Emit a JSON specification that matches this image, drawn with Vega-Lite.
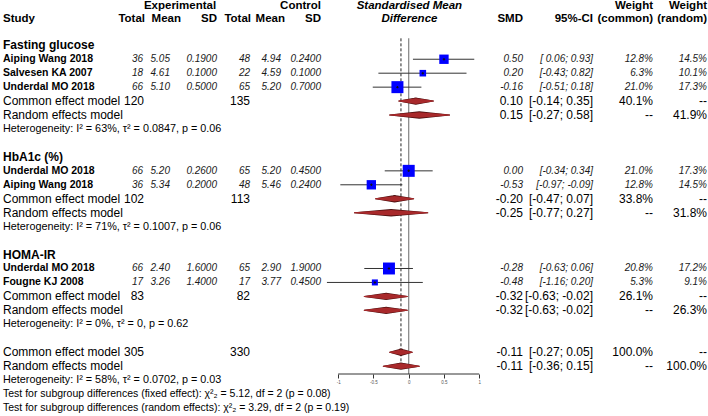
{
  "$schema": "https://vega.github.io/schema/vega-lite/v6.json",
  "width": 708,
  "height": 374,
  "autosize": {"type": "none"},
  "padding": {"left": 0, "top": 0, "right": 0, "bottom": 42},
  "background": "white",
  "config": {
    "view": {"stroke": null},
    "font": "Liberation Sans",
    "text": {"font": "Liberation Sans", "color": "black"},
    "locale": {"number": {"decimal": ".", "thousands": ",", "grouping": [3], "currency": ["$", ""], "minus": "-"}}
  },
  "datasets": {
    "studies": [
      {"r": 1, "study": "Aiping Wang 2018", "te": 36, "me": 5.05, "sde": 0.19, "tc": 48, "mc": 4.94, "sdc": 0.24, "smd": 0.50, "lo": 0.06, "hi": 0.93, "ci": "[ 0.06;  0.93]", "wc": 0.128, "wr": 0.145},
      {"r": 2, "study": "Salvesen KA 2007", "te": 18, "me": 4.61, "sde": 0.10, "tc": 22, "mc": 4.59, "sdc": 0.10, "smd": 0.20, "lo": -0.43, "hi": 0.82, "ci": "[-0.43;  0.82]", "wc": 0.063, "wr": 0.101},
      {"r": 3, "study": "Underdal MO 2018", "te": 66, "me": 5.10, "sde": 0.50, "tc": 65, "mc": 5.20, "sdc": 0.70, "smd": -0.16, "lo": -0.51, "hi": 0.18, "ci": "[-0.51;  0.18]", "wc": 0.210, "wr": 0.173},
      {"r": 9, "study": "Underdal MO 2018", "te": 66, "me": 5.20, "sde": 0.26, "tc": 65, "mc": 5.20, "sdc": 0.45, "smd": 0.00, "lo": -0.34, "hi": 0.34, "ci": "[-0.34;  0.34]", "wc": 0.210, "wr": 0.173},
      {"r": 10, "study": "Aiping Wang 2018", "te": 36, "me": 5.34, "sde": 0.20, "tc": 48, "mc": 5.46, "sdc": 0.24, "smd": -0.53, "lo": -0.97, "hi": -0.09, "ci": "[-0.97; -0.09]", "wc": 0.128, "wr": 0.145},
      {"r": 16, "study": "Underdal MO 2018", "te": 66, "me": 2.40, "sde": 1.60, "tc": 65, "mc": 2.90, "sdc": 1.90, "smd": -0.28, "lo": -0.63, "hi": 0.06, "ci": "[-0.63;  0.06]", "wc": 0.208, "wr": 0.172},
      {"r": 17, "study": "Fougne KJ 2008", "te": 17, "me": 3.26, "sde": 1.40, "tc": 17, "mc": 3.77, "sdc": 0.45, "smd": -0.48, "lo": -1.16, "hi": 0.20, "ci": "[-1.16;  0.20]", "wc": 0.053, "wr": 0.091}
    ],
    "summary": [
      {"r": 4, "label": "Common effect model", "te": "120", "tc": "135", "smd": 0.10, "lo": -0.14, "hi": 0.35, "ci": "[-0.14;  0.35]", "wcl": "40.1%", "wrl": "--"},
      {"r": 5, "label": "Random effects model", "te": "", "tc": "", "smd": 0.15, "lo": -0.27, "hi": 0.58, "ci": "[-0.27;  0.58]", "wcl": "--", "wrl": "41.9%"},
      {"r": 11, "label": "Common effect model", "te": "102", "tc": "113", "smd": -0.20, "lo": -0.47, "hi": 0.07, "ci": "[-0.47;  0.07]", "wcl": "33.8%", "wrl": "--"},
      {"r": 12, "label": "Random effects model", "te": "", "tc": "", "smd": -0.25, "lo": -0.77, "hi": 0.27, "ci": "[-0.77;  0.27]", "wcl": "--", "wrl": "31.8%"},
      {"r": 18, "label": "Common effect model", "te": "83", "tc": "82", "smd": -0.32, "lo": -0.63, "hi": -0.02, "ci": "[-0.63; -0.02]", "wcl": "26.1%", "wrl": "--"},
      {"r": 19, "label": "Random effects model", "te": "", "tc": "", "smd": -0.32, "lo": -0.63, "hi": -0.02, "ci": "[-0.63; -0.02]", "wcl": "--", "wrl": "26.3%"},
      {"r": 22, "label": "Common effect model", "te": "305", "tc": "330", "smd": -0.11, "lo": -0.27, "hi": 0.05, "ci": "[-0.27;  0.05]", "wcl": "100.0%", "wrl": "--"},
      {"r": 23, "label": "Random effects model", "te": "", "tc": "", "smd": -0.11, "lo": -0.36, "hi": 0.15, "ci": "[-0.36;  0.15]", "wcl": "--", "wrl": "100.0%"}
    ],
    "subgroups": [
      {"r": 0, "label": "Fasting glucose"},
      {"r": 8, "label": "HbA1c (%)"},
      {"r": 15, "label": "HOMA-IR"}
    ],
    "het": [
      {"r": 6, "label": "Heterogeneity: I² = 63%, τ² = 0.0847, p = 0.06"},
      {"r": 13, "label": "Heterogeneity: I² = 71%, τ² = 0.1007, p = 0.06"},
      {"r": 20, "label": "Heterogeneity: I² = 0%, τ² = 0, p = 0.62"},
      {"r": 24, "label": "Heterogeneity: I² = 58%, τ² = 0.0702, p = 0.03"}
    ],
    "tests": [
      {"r": 25, "label": "Test for subgroup differences (fixed effect): χ²₂ = 5.12, df = 2 (p = 0.08)"},
      {"r": 26, "label": "Test for subgroup differences (random effects): χ²₂ = 3.29, df = 2 (p = 0.19)"}
    ]
  },
  "resolve": {"scale": {"x": "independent"}, "axis": {"x": "independent"}},
  "layer": [
    {
      "layer": [
        {"data": {"values": [{}]}, "mark": {"type": "text", "fontWeight": "bold", "fontSize": 11.5, "align": "center", "baseline": "middle"},
         "encoding": {"x": {"datum": 180, "type": "quantitative", "scale": {"domain": [0, 708], "nice": false, "zero": false}, "axis": null},
                      "y": {"datum": -2.8, "type": "quantitative", "scale": {"domain": [-3.247, 23.563], "reverse": true, "nice": false, "zero": false}, "axis": null},
                      "text": {"value": "Experimental"}}},
        {"data": {"values": [{}]}, "mark": {"type": "text", "fontWeight": "bold", "fontSize": 11.5, "align": "right", "baseline": "middle"},
         "encoding": {"x": {"datum": 321, "type": "quantitative"}, "y": {"datum": -2.8, "type": "quantitative"}, "text": {"value": "Control"}}},
        {"data": {"values": [{}]}, "mark": {"type": "text", "fontWeight": "bold", "fontSize": 11.5, "align": "left", "baseline": "middle"},
         "encoding": {"x": {"datum": 3, "type": "quantitative"}, "y": {"datum": -1.92, "type": "quantitative"}, "text": {"value": "Study"}}},
        {"data": {"values": [{}]}, "mark": {"type": "text", "fontWeight": "bold", "fontSize": 11.5, "align": "right", "baseline": "middle"},
         "encoding": {"x": {"datum": 145, "type": "quantitative"}, "y": {"datum": -1.92, "type": "quantitative"}, "text": {"value": "Total"}}},
        {"data": {"values": [{}]}, "mark": {"type": "text", "fontWeight": "bold", "fontSize": 11.5, "align": "right", "baseline": "middle"},
         "encoding": {"x": {"datum": 181, "type": "quantitative"}, "y": {"datum": -1.92, "type": "quantitative"}, "text": {"value": "Mean"}}},
        {"data": {"values": [{}]}, "mark": {"type": "text", "fontWeight": "bold", "fontSize": 11.5, "align": "right", "baseline": "middle"},
         "encoding": {"x": {"datum": 217, "type": "quantitative"}, "y": {"datum": -1.92, "type": "quantitative"}, "text": {"value": "SD"}}},
        {"data": {"values": [{}]}, "mark": {"type": "text", "fontWeight": "bold", "fontSize": 11.5, "align": "right", "baseline": "middle"},
         "encoding": {"x": {"datum": 251, "type": "quantitative"}, "y": {"datum": -1.92, "type": "quantitative"}, "text": {"value": "Total"}}},
        {"data": {"values": [{}]}, "mark": {"type": "text", "fontWeight": "bold", "fontSize": 11.5, "align": "right", "baseline": "middle"},
         "encoding": {"x": {"datum": 285, "type": "quantitative"}, "y": {"datum": -1.92, "type": "quantitative"}, "text": {"value": "Mean"}}},
        {"data": {"values": [{}]}, "mark": {"type": "text", "fontWeight": "bold", "fontSize": 11.5, "align": "right", "baseline": "middle"},
         "encoding": {"x": {"datum": 321, "type": "quantitative"}, "y": {"datum": -1.92, "type": "quantitative"}, "text": {"value": "SD"}}},
        {"data": {"values": [{}]}, "mark": {"type": "text", "fontWeight": "bold", "fontSize": 11.5, "align": "right", "baseline": "middle"},
         "encoding": {"x": {"datum": 523, "type": "quantitative"}, "y": {"datum": -1.92, "type": "quantitative"}, "text": {"value": "SMD"}}},
        {"data": {"values": [{}]}, "mark": {"type": "text", "fontWeight": "bold", "fontSize": 11.5, "align": "right", "baseline": "middle"},
         "encoding": {"x": {"datum": 593, "type": "quantitative"}, "y": {"datum": -1.92, "type": "quantitative"}, "text": {"value": "95%-CI"}}},
        {"data": {"values": [{}]}, "mark": {"type": "text", "fontWeight": "bold", "fontSize": 11.5, "align": "right", "baseline": "middle"},
         "encoding": {"x": {"datum": 653, "type": "quantitative"}, "y": {"datum": -2.8, "type": "quantitative"}, "text": {"value": "Weight"}}},
        {"data": {"values": [{}]}, "mark": {"type": "text", "fontWeight": "bold", "fontSize": 11.5, "align": "right", "baseline": "middle"},
         "encoding": {"x": {"datum": 653, "type": "quantitative"}, "y": {"datum": -1.92, "type": "quantitative"}, "text": {"value": "(common)"}}},
        {"data": {"values": [{}]}, "mark": {"type": "text", "fontWeight": "bold", "fontSize": 11.5, "align": "right", "baseline": "middle"},
         "encoding": {"x": {"datum": 707, "type": "quantitative"}, "y": {"datum": -2.8, "type": "quantitative"}, "text": {"value": "Weight"}}},
        {"data": {"values": [{}]}, "mark": {"type": "text", "fontWeight": "bold", "fontSize": 11.5, "align": "right", "baseline": "middle"},
         "encoding": {"x": {"datum": 707, "type": "quantitative"}, "y": {"datum": -1.92, "type": "quantitative"}, "text": {"value": "(random)"}}},

        {"data": {"name": "subgroups"}, "mark": {"type": "text", "fontWeight": "bold", "fontSize": 12, "align": "left", "baseline": "middle"},
         "encoding": {"x": {"datum": 3, "type": "quantitative"}, "y": {"field": "r", "type": "quantitative"}, "text": {"field": "label"}}},

        {"data": {"name": "studies"}, "mark": {"type": "text", "fontWeight": "bold", "fontSize": 10.5, "align": "left", "baseline": "middle"},
         "encoding": {"x": {"datum": 3, "type": "quantitative"}, "y": {"field": "r", "type": "quantitative"}, "text": {"field": "study"}}},
        {"data": {"name": "studies"}, "mark": {"type": "text", "fontStyle": "italic", "fontSize": 10, "align": "right", "baseline": "middle", "color": "#1a1a1a"},
         "encoding": {"x": {"datum": 143, "type": "quantitative"}, "y": {"field": "r", "type": "quantitative"}, "text": {"field": "te", "format": "d"}}},
        {"data": {"name": "studies"}, "mark": {"type": "text", "fontStyle": "italic", "fontSize": 10, "align": "right", "baseline": "middle", "color": "#1a1a1a"},
         "encoding": {"x": {"datum": 170, "type": "quantitative"}, "y": {"field": "r", "type": "quantitative"}, "text": {"field": "me", "format": ".2f"}}},
        {"data": {"name": "studies"}, "mark": {"type": "text", "fontStyle": "italic", "fontSize": 10, "align": "right", "baseline": "middle", "color": "#1a1a1a"},
         "encoding": {"x": {"datum": 217, "type": "quantitative"}, "y": {"field": "r", "type": "quantitative"}, "text": {"field": "sde", "format": ".4f"}}},
        {"data": {"name": "studies"}, "mark": {"type": "text", "fontStyle": "italic", "fontSize": 10, "align": "right", "baseline": "middle", "color": "#1a1a1a"},
         "encoding": {"x": {"datum": 250, "type": "quantitative"}, "y": {"field": "r", "type": "quantitative"}, "text": {"field": "tc", "format": "d"}}},
        {"data": {"name": "studies"}, "mark": {"type": "text", "fontStyle": "italic", "fontSize": 10, "align": "right", "baseline": "middle", "color": "#1a1a1a"},
         "encoding": {"x": {"datum": 281, "type": "quantitative"}, "y": {"field": "r", "type": "quantitative"}, "text": {"field": "mc", "format": ".2f"}}},
        {"data": {"name": "studies"}, "mark": {"type": "text", "fontStyle": "italic", "fontSize": 10, "align": "right", "baseline": "middle", "color": "#1a1a1a"},
         "encoding": {"x": {"datum": 321, "type": "quantitative"}, "y": {"field": "r", "type": "quantitative"}, "text": {"field": "sdc", "format": ".4f"}}},
        {"data": {"name": "studies"}, "mark": {"type": "text", "fontStyle": "italic", "fontSize": 10, "align": "right", "baseline": "middle", "color": "#1a1a1a"},
         "encoding": {"x": {"datum": 523, "type": "quantitative"}, "y": {"field": "r", "type": "quantitative"}, "text": {"field": "smd", "format": ".2f"}}},
        {"data": {"name": "studies"}, "mark": {"type": "text", "fontStyle": "italic", "fontSize": 10, "align": "right", "baseline": "middle", "color": "#1a1a1a"},
         "encoding": {"x": {"datum": 593, "type": "quantitative"}, "y": {"field": "r", "type": "quantitative"}, "text": {"field": "ci"}}},
        {"data": {"name": "studies"}, "mark": {"type": "text", "fontStyle": "italic", "fontSize": 10, "align": "right", "baseline": "middle", "color": "#1a1a1a"},
         "encoding": {"x": {"datum": 653, "type": "quantitative"}, "y": {"field": "r", "type": "quantitative"}, "text": {"field": "wc", "format": ".1%"}}},
        {"data": {"name": "studies"}, "mark": {"type": "text", "fontStyle": "italic", "fontSize": 10, "align": "right", "baseline": "middle", "color": "#1a1a1a"},
         "encoding": {"x": {"datum": 707, "type": "quantitative"}, "y": {"field": "r", "type": "quantitative"}, "text": {"field": "wr", "format": ".1%"}}},

        {"data": {"name": "summary"}, "mark": {"type": "text", "fontSize": 12, "align": "left", "baseline": "middle"},
         "encoding": {"x": {"datum": 3, "type": "quantitative"}, "y": {"field": "r", "type": "quantitative"}, "text": {"field": "label"}}},
        {"data": {"name": "summary"}, "mark": {"type": "text", "fontSize": 12, "align": "right", "baseline": "middle"},
         "encoding": {"x": {"datum": 144, "type": "quantitative"}, "y": {"field": "r", "type": "quantitative"}, "text": {"field": "te"}}},
        {"data": {"name": "summary"}, "mark": {"type": "text", "fontSize": 12, "align": "right", "baseline": "middle"},
         "encoding": {"x": {"datum": 250, "type": "quantitative"}, "y": {"field": "r", "type": "quantitative"}, "text": {"field": "tc"}}},
        {"data": {"name": "summary"}, "mark": {"type": "text", "fontSize": 12, "align": "right", "baseline": "middle"},
         "encoding": {"x": {"datum": 523, "type": "quantitative"}, "y": {"field": "r", "type": "quantitative"}, "text": {"field": "smd", "format": ".2f"}}},
        {"data": {"name": "summary"}, "mark": {"type": "text", "fontSize": 12, "align": "right", "baseline": "middle"},
         "encoding": {"x": {"datum": 593, "type": "quantitative"}, "y": {"field": "r", "type": "quantitative"}, "text": {"field": "ci"}}},
        {"data": {"name": "summary"}, "mark": {"type": "text", "fontSize": 12, "align": "right", "baseline": "middle"},
         "encoding": {"x": {"datum": 653, "type": "quantitative"}, "y": {"field": "r", "type": "quantitative"}, "text": {"field": "wcl"}}},
        {"data": {"name": "summary"}, "mark": {"type": "text", "fontSize": 12, "align": "right", "baseline": "middle"},
         "encoding": {"x": {"datum": 707, "type": "quantitative"}, "y": {"field": "r", "type": "quantitative"}, "text": {"field": "wrl"}}},

        {"data": {"name": "het"}, "mark": {"type": "text", "fontSize": 10.8, "align": "left", "baseline": "middle"},
         "encoding": {"x": {"datum": 3, "type": "quantitative"}, "y": {"field": "r", "type": "quantitative"}, "text": {"field": "label"}}},
        {"data": {"name": "tests"}, "mark": {"type": "text", "fontSize": 10.5, "align": "left", "baseline": "middle"},
         "encoding": {"x": {"datum": 3, "type": "quantitative"}, "y": {"field": "r", "type": "quantitative"}, "text": {"field": "label"}}}
      ]
    },
    {
      "resolve": {"scale": {"size": "independent"}},
      "layer": [
        {"data": {"values": [{}]}, "mark": {"type": "rule", "color": "#808080", "strokeWidth": 1.2},
         "encoding": {"x": {"datum": 0, "type": "quantitative", "scale": {"domain": [-5.797, 4.245], "nice": false, "zero": false},
                            "axis": {"orient": "bottom", "values": [-1, -0.5, 0, 0.5, 1], "format": "~g", "domain": false, "grid": false, "ticks": true, "tickSize": 4, "tickColor": "#333333", "tickWidth": 1, "labelFontSize": 4.5, "labelColor": "#555555", "labelPadding": 1, "labelFont": "Liberation Sans", "title": null}},
                      "y": {"datum": -0.5, "type": "quantitative"}, "y2": {"datum": 23.563}}},
        {"data": {"values": [{}]}, "mark": {"type": "rule", "color": "#333333", "strokeWidth": 1},
         "encoding": {"x": {"datum": -1, "type": "quantitative"}, "x2": {"datum": 1}, "y": {"datum": 23.563, "type": "quantitative"}}},
        {"data": {"values": [{}]}, "mark": {"type": "rule", "color": "#222222", "strokeWidth": 1, "strokeDash": [3, 2]},
         "encoding": {"x": {"datum": -0.11, "type": "quantitative"}, "y": {"datum": -0.5, "type": "quantitative"}, "y2": {"datum": 23.2}}},
        {"data": {"values": [{}]}, "mark": {"type": "text", "fontWeight": "bold", "fontStyle": "italic", "fontSize": 11.5, "align": "center", "baseline": "middle"},
         "encoding": {"x": {"datum": 0.01, "type": "quantitative"}, "y": {"datum": -2.8, "type": "quantitative"}, "text": {"value": "Standardised Mean"}}},
        {"data": {"values": [{}]}, "mark": {"type": "text", "fontWeight": "bold", "fontStyle": "italic", "fontSize": 11.5, "align": "center", "baseline": "middle"},
         "encoding": {"x": {"datum": 0.01, "type": "quantitative"}, "y": {"datum": -1.92, "type": "quantitative"}, "text": {"value": "Difference"}}},
        {"data": {"name": "studies"}, "mark": {"type": "rule", "color": "#333333", "strokeWidth": 1},
         "encoding": {"x": {"field": "lo", "type": "quantitative"}, "x2": {"field": "hi"}, "y": {"field": "r", "type": "quantitative"}}},
        {"data": {"name": "studies"}, "mark": {"type": "point", "shape": "square", "filled": true, "color": "#0000ff", "opacity": 1},
         "encoding": {"x": {"field": "smd", "type": "quantitative"}, "y": {"field": "r", "type": "quantitative"},
                      "size": {"field": "wc", "type": "quantitative", "scale": {"domain": [0, 0.21], "range": [0, 144], "zero": true}, "legend": null}}},
        {"data": {"name": "studies"}, "mark": {"type": "point", "shape": "cross", "filled": true, "color": "#111111", "size": 6, "opacity": 1},
         "encoding": {"x": {"field": "smd", "type": "quantitative"}, "y": {"field": "r", "type": "quantitative"}}},
        {"data": {"name": "summary"}, "transform": [{"fold": ["lo", "smd", "hi"], "as": ["k", "v"]}],
         "mark": {"type": "trail", "color": "#4a0e0e", "fill": "#4a0e0e", "opacity": 1},
         "encoding": {"x": {"field": "v", "type": "quantitative"}, "y": {"field": "r", "type": "quantitative"}, "detail": {"field": "r", "type": "nominal"},
                      "size": {"field": "k", "type": "nominal", "scale": {"type": "ordinal", "domain": ["lo", "smd", "hi"], "range": [0, 7.4, 0]}, "legend": null}}},
        {"data": {"name": "summary"}, "transform": [{"fold": ["lo", "smd", "hi"], "as": ["k", "v"]}],
         "mark": {"type": "trail", "color": "#a8292b", "fill": "#a8292b", "opacity": 1},
         "encoding": {"x": {"field": "v", "type": "quantitative"}, "y": {"field": "r", "type": "quantitative"}, "detail": {"field": "r", "type": "nominal"},
                      "size": {"field": "k", "type": "nominal", "scale": {"type": "ordinal", "domain": ["lo", "smd", "hi"], "range": [0, 5.6, 0]}, "legend": null}}}
      ]
    }
  ]
}
